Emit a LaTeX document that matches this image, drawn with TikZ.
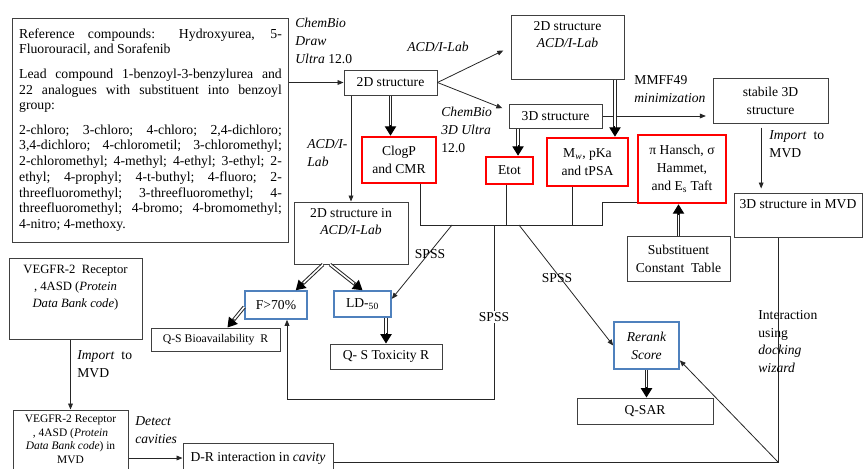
\documentclass[tikz,border=0pt]{standalone}
\usepackage{fontspec}
\setmainfont{Liberation Serif}
\usetikzlibrary{arrows.meta,calc,positioning}
\definecolor{boxblue}{RGB}{79,129,189}
\newcommand\reffont{\fontsize{10.3}{11.8}\selectfont\spaceskip=0.25em plus 2em minus 0.05em\parindent=0pt}
\newcommand\topbox[4][4.5pt]{\parbox[t][#3][t]{#2}{\centering\vspace*{#1}#4}}
\newcommand\dblarrow[2]{%
  \draw[dblshaft] #1 -- ($#2!6pt!#1$);
  \draw[dblhead] ($#2!8pt!#1$) -- #2;}

\begin{document}
\begin{tikzpicture}[x=0.75pt, y=-0.75pt, line width=0.6pt, draw=black!85,
    >={Triangle[length=4.5pt,width=3.6pt]},
    nf/.style={font=\fontsize{10.2}{13.3}\selectfont},
    frame/.style={draw=black!75, line width=0.75pt, nf},
    box/.style={frame, align=center, inner sep=1pt},
    tbox/.style={frame, inner sep=0pt},
    redbox/.style={box, draw=red, line width=2pt},
    bluebox/.style={box, draw=boxblue, line width=1.2pt},
    lbl/.style={nf, align=left, inner sep=0pt, anchor=north west},
    dblshaft/.style={double=white, double distance=1.2pt, line width=0.75pt, draw=black!85},
    dblhead/.style={-{Triangle[length=7pt,width=8.5pt]}, line width=0.75pt, draw=black}]
  \useasboundingbox (0,0) rectangle (863,468);

  \node[box, text width=197pt, minimum height=168pt, inner xsep=4.9pt, align=justify, font=\reffont] (ref) at (150.5,130)
    {Reference compounds: Hydroxyurea, 5-\linebreak Fluorouracil, and Sorafenib\par\vskip6.5pt
     Lead compound 1-benzoyl-3-benzylurea and\linebreak 22 analogues with substituent into benzoyl\linebreak group:\par\vskip6.5pt
     2-chloro; 3-chloro; 4-chloro; 2,4-dichloro;\linebreak 3,4-dichloro; 4-chlorometil; 3-chloromethyl;\linebreak
     2-chloromethyl; 4-methyl; 4-ethyl; 3-ethyl; 2-\linebreak ethyl; 4-prophyl; 4-t-buthyl; 4-fluoro; 2-\linebreak
     threefluoromethyl; 3-threefluoromethyl; 4-\linebreak threefluoromethyl; 4-bromo; 4-bromomethyl;\linebreak 4-nitro; 4-methoxy.};
  \node[box, minimum width=69.75pt, minimum height=18.75pt] (s2d) at (390.5,82.5) {2D structure};
  \node[tbox] (acd2d) at (567.5,47) {\topbox{84.75pt}{48pt}{2D structure\\\textit{ACD/I-Lab}}};
  \node[box, minimum width=69.75pt, minimum height=18pt] (s3d) at (555.5,116) {3D structure};
  \node[box, minimum width=86.25pt, minimum height=33.75pt] (stab) at (770.5,100.5) {stabile 3D\\structure};
  \node[tbox] (mvd3d) at (798,215) {\topbox{96pt}{33pt}{3D structure in MVD}};
  \node[redbox, minimum width=55.5pt, minimum height=34.5pt] (clogp) at (399,160) {ClogP\\and CMR};
  \node[redbox, minimum width=35.25pt, minimum height=20.25pt] (etot) at (509.5,170.5) {Etot};
  \node[redbox, minimum width=60.75pt, minimum height=36pt] (mw) at (587.5,162) {M\textsubscript{\textit{w}}, pKa\\and tPSA};
  \node[redbox, minimum width=66pt, minimum height=51pt] (hansch) at (682,169) {π Hansch, σ\\Hammet,\\and E\textsubscript{s} Taft};
  \node[box, minimum width=77.25pt, minimum height=33.75pt] (subst) at (678.5,258.5) {Substituent\\Constant~ Table};
  \node[tbox] (acdin) at (351,233) {\topbox{85.5pt}{46.5pt}{2D structure in\\\textit{ACD/I-Lab}}};
  \node[bluebox, minimum width=46.5pt, minimum height=21pt] (fbio) at (276,305) {F>70\%};
  \node[bluebox, minimum width=42.75pt, minimum height=19.5pt] (ld) at (362.5,304) {LD-\textsubscript{50}};
  \node[box, minimum width=96.75pt, minimum height=17.25pt, font=\fontsize{8.8}{10}\selectfont] (qsbio) at (215.5,339.5) {Q-S Bioavailability~ R};
  \node[box, minimum width=84pt, minimum height=18.75pt] (qstox) at (386,356.5) {Q- S Toxicity R};
  \node[bluebox, minimum width=48.75pt, minimum height=35.25pt] (rerank) at (646.5,345.5) {\textit{Rerank}\\\textit{Score}};
  \node[box, minimum width=102pt, minimum height=19.5pt] (qsar) at (645,411) {Q-SAR};
  \node[tbox, font=\fontsize{9.5}{12.8}\selectfont] (vegfr) at (75.5,298.5)
    {\topbox[5pt]{99.75pt}{60.75pt}{VEGFR-2~ Receptor\\, 4ASD (\textit{Protein}\\\textit{Data Bank code})}};
  \node[tbox, font=\fontsize{8.6}{10.4}\selectfont] (vegmvd) at (70.5,441)
    {\topbox[3.5pt]{86.25pt}{46.5pt}{VEGFR-2 Receptor\\, 4ASD (\textit{Protein}\\\textit{Data Bank code}) in\\MVD}};
  \node[box, minimum width=112.5pt, minimum height=22.5pt] (drint) at (258,458) {D-R interaction in \textit{cavity}};

  \draw[->] (ref.east |- s2d.west) -- (s2d.west);
  \draw[->, shorten >=6pt] (s2d.east) -- (acd2d.west);
  \draw[->, shorten >=5pt] (s2d.east) -- ([yshift=4pt]s3d.west);
  \draw[->] (s2d.south -| acdin.north) -- (acdin.north);
  \draw[->, shorten >=5pt] (s3d.east) -- (s3d.east -| stab.west);
  \coordinate (st) at ([xshift=-7pt]stab.south);
  \draw[->, shorten <=3pt, shorten >=3pt] (st) -- (st |- mvd3d.north);
  \draw[->] (vegfr.south -| vegmvd.north) -- (vegmvd.north);
  \draw[->] (vegmvd.east |- drint.west) -- (drint.west);

  \dblarrow{(s2d.south)}{(s2d.south |- clogp.north)}
  \coordinate (e1) at ([xshift=6.4pt]etot.north);
  \dblarrow{(e1 |- s3d.south)}{(e1)}
  \coordinate (m1) at ([xshift=35.6pt]acd2d.south);
  \dblarrow{(m1)}{(m1 |- mw.north)}
  \dblarrow{(subst.north)}{(subst.north |- hansch.south)}
  \coordinate (a1) at ([xshift=-21pt]acdin.south);
  \coordinate (a2) at ([xshift=-15.75pt]acdin.south);
  \dblarrow{(a1)}{([xshift=-9pt]fbio.north east)}
  \dblarrow{(a2)}{(ld.north)}
  \dblarrow{([yshift=-1.5pt]fbio.west)}{([xshift=9pt]qsbio.north)}
  \dblarrow{(qstox.north |- ld.south)}{(qstox.north)}
  \dblarrow{(rerank.south)}{(rerank.south |- qsar.north)}

  \coordinate (c1) at ([xshift=15.75pt]clogp.south);
  \coordinate (e2) at ([xshift=-2.6pt]etot.south);
  \coordinate (m2) at ([xshift=-11.6pt]mw.south);
  \coordinate (bus) at (602,225);
  \coordinate (h1) at ([yshift=1.5pt]hansch.south west);
  \draw (c1) |- (bus) |- (h1);
  \draw (e2) -- (e2 |- bus);
  \draw (m2) -- (m2 |- bus);

  \coordinate (p1) at (452,225);
  \coordinate (p2) at (494,225);
  \coordinate (p3) at (519,225);
  \coordinate (lo) at (0,399);
  \coordinate (f1) at ([xshift=8.25pt]fbio.south);
  \draw[->] (p1) -- (ld.10);
  \draw[->] (p2) -- (p2 |- lo) -| (f1);
  \draw[->] (p3) -- (rerank.west);
  \node[nf, inner sep=0.5pt] (sp1) at (430,254) {SPSS};
  \node[nf, fill=white, inner sep=1pt] (sp2) at (494,317) {SPSS};
  \node[nf, inner sep=0.5pt] (sp3) at (557,278) {SPSS};

  \coordinate (cr) at (778,462);
  \draw (drint.east |- cr) -- (cr) -- (cr |- mvd3d.south);
  \draw[->] (cr) -- (rerank.-24);

  \node[lbl] (lcbd) at (295,18) {\textit{ChemBio}\\\textit{Draw}\\\textit{Ultra} 12.0};
  \node[lbl] (lacd1) at (407,42) {\textit{ACD/I-Lab}};
  \node[lbl] (lcb3) at (441,107) {\textit{ChemBio}\\\textit{3D Ultra}\\12.0};
  \node[lbl] (lacd2) at (307,139) {\textit{ACD/I-}\\\textit{Lab}};
  \node[lbl] (lmm) at (634,75) {MMFF49\\\textit{minimization}};
  \node[lbl] (limp1) at (769,130) {\textit{Import}~ to\\MVD};
  \node[lbl] (limp2) at (77,350) {\textit{Import}~ to\\MVD};
  \node[lbl] (ldet) at (135,416) {\textit{Detect}\\\textit{cavities}};
  \node[lbl] (lint) at (758,310) {Interaction\\using\\\textit{docking}\\\textit{wizard}};
\end{tikzpicture}
\end{document}
